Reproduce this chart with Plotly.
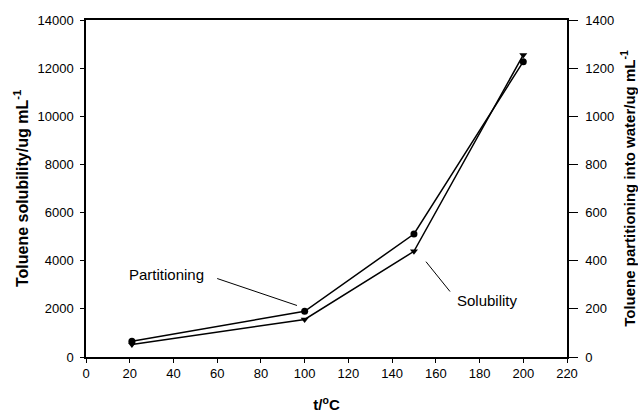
import plotly.graph_objects as go

temps = [21, 100, 150, 200]
solubility = [520, 1560, 4390, 12550]        # left axis, ug/mL (triangles)
partitioning = [65, 190, 511, 1227]          # right axis, ug/mL (circles)

x_ticks = list(range(0, 221, 20))
y1_ticks = list(range(0, 14001, 2000))
y2_ticks = list(range(0, 1401, 200))

FONT = "Liberation Sans, Arial, sans-serif"

fig = go.Figure()
fig.add_trace(go.Scatter(
    x=temps, y=solubility, mode="lines+markers", name="Solubility",
    line=dict(color="black", width=1.5),
    marker=dict(symbol="triangle-down", size=7, color="black"),
    yaxis="y"))
fig.add_trace(go.Scatter(
    x=temps, y=partitioning, mode="lines+markers", name="Partitioning",
    line=dict(color="black", width=1.5),
    marker=dict(symbol="circle", size=7, color="black"),
    yaxis="y2"))

axis_common = dict(showgrid=False, zeroline=False, showline=True, linecolor="black",
                   linewidth=1.5, ticks="outside", tickcolor="black",
                   automargin=False,
                   tickfont=dict(family=FONT, size=13, color="black"))

fig.update_layout(
    width=638, height=416, showlegend=False,
    paper_bgcolor="white", plot_bgcolor="white",
    margin=dict(l=86, r=71, t=20, b=59),
    font=dict(family=FONT, color="black"),
    xaxis=dict(range=[0, 220], tickvals=x_ticks, ticktext=[str(v) for v in x_ticks], mirror=True,
               ticklen=4,
               title=dict(text="<b>t/<sup>o</sup>C</b>", font=dict(size=15), standoff=19),
               **axis_common),
    yaxis=dict(range=[0, 14000], tickvals=y1_ticks, ticktext=[str(v) for v in y1_ticks],
               ticklen=4, ticklabelstandoff=4,
               title=dict(text="<b>Toluene solubility/ug mL<sup>-1</sup></b>", font=dict(size=16), standoff=5),
               **axis_common),
    yaxis2=dict(range=[0, 1400], tickvals=y2_ticks, ticktext=[str(v) for v in y2_ticks],
                overlaying="y", side="right", ticklen=9, ticklabelstandoff=5,
                title=dict(text="<b>Toluene partitioning into water/ug mL<sup>-1</sup></b>", font=dict(size=15), standoff=11),
                **axis_common),
)

# callout lines + labels
fig.add_shape(type="line", xref="x", yref="y", x0=60, y0=3260, x1=96.5, y1=2140,
              line=dict(color="black", width=1))
fig.add_shape(type="line", xref="x", yref="y", x0=155.5, y0=3960, x1=166.5, y1=2720,
              line=dict(color="black", width=1))
fig.add_annotation(x=37, y=3420, xref="x", yref="y", text="Partitioning", showarrow=False,
                   font=dict(family=FONT, size=15, color="black"))
fig.add_annotation(x=183.5, y=2340, xref="x", yref="y", text="Solubility", showarrow=False,
                   font=dict(family=FONT, size=15, color="black"))

fig.write_html("out.html", config={"displayModeBar": False},
               post_script="document.body.style.margin='0';")
